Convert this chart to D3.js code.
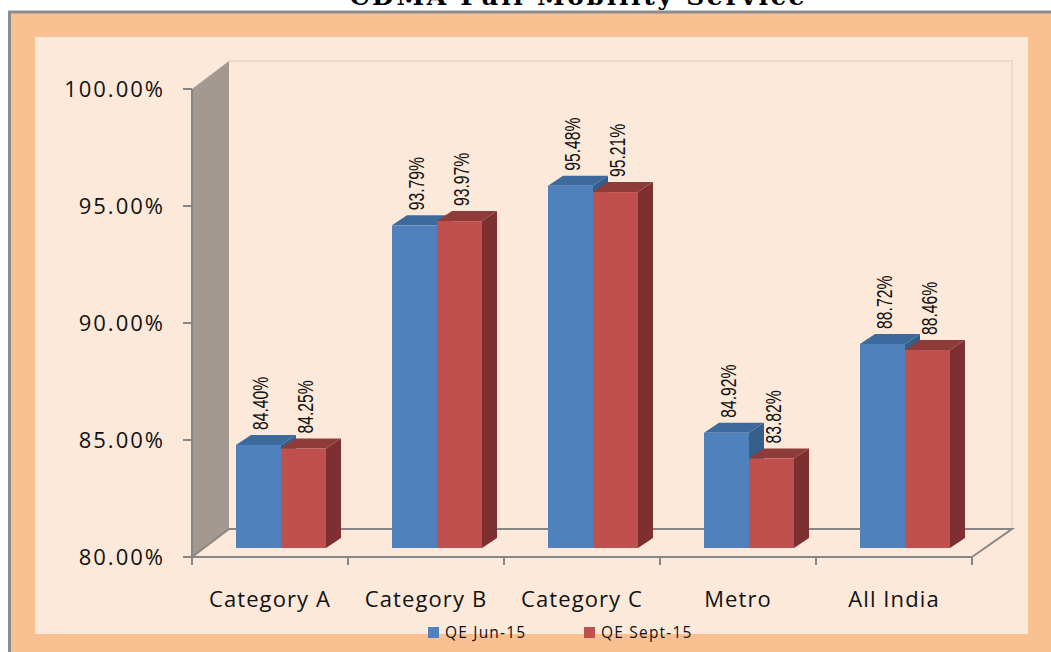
<!DOCTYPE html>
<html>
<head>
<meta charset="utf-8">
<script src="https://cdn.jsdelivr.net/npm/d3@7"></script>
<style>
  body { margin: 0; background: #fff; }
  svg { display: block; }
</style>
</head>
<body>
<div id="chart"></div>
<script>
// data
var categories = ["Category A", "Category B", "Category C", "Metro", "All India"];
var seriesNames = ["QE Jun-15", "QE Sept-15"];
var jun15 = [84.40, 93.79, 95.48, 84.92, 88.72];
var sep15 = [84.25, 93.97, 95.21, 83.82, 88.46];
var yTicks = [80, 85, 90, 95, 100];

var width = 1051, height = 652;

var colors = {
  "QE Jun-15": { front: "#4F81BD", top: "#3D6A9C", side: "#365E8B" },
  "QE Sept-15": { front: "#C0504D", top: "#8E3B39", side: "#7D302F" }
};

var svg = d3.select("#chart").append("svg")
  .attr("width", width)
  .attr("height", height);

// frame
svg.append("rect").attr("x", 9.5).attr("y", 12).attr("width", 1060).attr("height", 660)
  .attr("fill", "#F9C192").attr("stroke", "#8C8C8C").attr("stroke-width", 3);
svg.append("rect").attr("x", 35).attr("y", 37).attr("width", 993).attr("height", 597)
  .attr("fill", "#FDE9DA");

// title (cut off at top, as in the original)
svg.append("text")
  .attr("x", 577).attr("y", 5)
  .attr("text-anchor", "middle")
  .attr("font-family", "DejaVu Serif")
  .attr("font-weight", "bold")
  .attr("font-size", 25)
  .attr("textLength", 455)
  .attr("fill", "#000")
  .text("CDMA Full Mobility Service");

// scales
var x0 = d3.scaleBand().domain(categories).range([192, 972]);
var x1 = d3.scaleBand().domain(seriesNames).range([44, 134]);
var y = d3.scaleLinear().domain([80, 100]).range([557, 89]);

// 3d depth offsets
var depth = { dx: 37, dy: -28 };       // full floor depth
var barOff = { dx: -12, dy: -9 };      // bar front plane relative to floor front
var barDepth = { dx: 15, dy: -10 };    // bar thickness

var axisColor = "#878787";

// back plane outline (faint)
svg.append("path")
  .attr("d", "M" + (192 + depth.dx) + "," + (y(100) + depth.dy) + "H" + (972 + 40) + "V" + (557 + depth.dy))
  .attr("fill", "none").attr("stroke", "#EAD5C4").attr("stroke-width", 1.5);

// side wall
svg.append("path")
  .attr("d", "M192," + y(100) + "L" + (192 + depth.dx) + "," + (y(100) + depth.dy) +
    "L" + (192 + depth.dx) + "," + (y(80) + depth.dy) + "L192," + y(80) + "Z")
  .attr("fill", "#A39990");

// floor
svg.append("path")
  .attr("d", "M" + (192 + depth.dx) + "," + (y(80) + depth.dy) + "H" + (972 + 40) +
    "L972," + y(80) + "M192," + y(80) + "L" + (192 + depth.dx) + "," + (y(80) + depth.dy))
  .attr("fill", "none").attr("stroke", axisColor).attr("stroke-width", 2);

// y axis
var yAxis = svg.append("g");
yAxis.append("line").attr("x1", 192).attr("x2", 192).attr("y1", y(100)).attr("y2", y(80))
  .attr("stroke", axisColor).attr("stroke-width", 2);
yAxis.selectAll("line.tick").data(yTicks).enter().append("line")
  .attr("class", "tick")
  .attr("x1", 183).attr("x2", 192)
  .attr("y1", function(d) { return y(d); }).attr("y2", function(d) { return y(d); })
  .attr("stroke", axisColor).attr("stroke-width", 2);
yAxis.selectAll("text").data(yTicks).enter().append("text")
  .attr("x", 165)
  .attr("y", function(d) { return y(d) + 8; })
  .attr("text-anchor", "end")
  .attr("font-family", "Open Sans")
  .attr("font-size", 22)
  .attr("letter-spacing", 2)
  .attr("fill", "#111")
  .text(function(d) { return d.toFixed(2) + "%"; });

// x axis
var xAxis = svg.append("g");
xAxis.append("line").attr("x1", 191).attr("x2", 973).attr("y1", y(80)).attr("y2", y(80))
  .attr("stroke", axisColor).attr("stroke-width", 2);
var xTicks = categories.map(function(c) { return x0(c); }).concat([972]);
xAxis.selectAll("line.tick").data(xTicks).enter().append("line")
  .attr("class", "tick")
  .attr("x1", function(d) { return d; }).attr("x2", function(d) { return d; })
  .attr("y1", y(80)).attr("y2", y(80) + 8)
  .attr("stroke", axisColor).attr("stroke-width", 2);
xAxis.selectAll("text").data(categories).enter().append("text")
  .attr("x", function(d) { return x0(d) + x0.bandwidth() / 2; })
  .attr("y", 607)
  .attr("text-anchor", "middle")
  .attr("font-family", "Open Sans")
  .attr("font-size", 22)
  .attr("letter-spacing", 1.1)
  .attr("fill", "#111")
  .text(function(d) { return d; });

// bars
var rows = [];
categories.forEach(function(c, i) {
  rows.push({ cat: c, series: seriesNames[0], value: jun15[i] });
  rows.push({ cat: c, series: seriesNames[1], value: sep15[i] });
});

function pts(a) { return a.map(function(p) { return p.join(","); }).join(" "); }

var bars = svg.append("g").selectAll("g").data(rows).enter().append("g");

bars.each(function(d) {
  var g = d3.select(this);
  var c = colors[d.series];
  var xl = x0(d.cat) + x1(d.series);
  var xr = xl + x1.bandwidth();
  var yb = y(80) + barOff.dy;
  var yt = y(d.value) + barOff.dy;
  var ddx = barDepth.dx, ddy = barDepth.dy;
  // side
  g.append("polygon").attr("points", pts([[xr, yt], [xr + ddx, yt + ddy], [xr + ddx, yb + ddy], [xr, yb]]))
    .attr("fill", c.side);
  // top
  g.append("polygon").attr("points", pts([[xl, yt], [xl + ddx, yt + ddy], [xr + ddx, yt + ddy], [xr, yt]]))
    .attr("fill", c.top);
  // front
  g.append("rect").attr("x", xl).attr("y", yt).attr("width", xr - xl).attr("height", yb - yt)
    .attr("fill", c.front);
});

// value labels
bars.append("text")
  .attr("transform", function(d) {
    var cx = x0(d.cat) + x1(d.series) + x1.bandwidth() / 2 + 1;
    var yy = y(d.value) + barOff.dy + barDepth.dy - 5;
    return "translate(" + cx + "," + yy + ") rotate(-90) scale(0.7,1)";
  })
  .attr("dominant-baseline", "central")
  .attr("font-family", "Liberation Sans")
  .attr("font-size", 22.5)
  .attr("fill", "#111")
  .text(function(d) { return d.value.toFixed(2) + "%"; });

// legend
var legend = svg.append("g").selectAll("g").data(seriesNames).enter().append("g")
  .attr("transform", function(d, i) { return "translate(" + (428 + i * 156) + ",627)"; });
legend.append("rect").attr("width", 11).attr("height", 11)
  .attr("fill", function(d) { return colors[d].front; });
legend.append("text")
  .attr("x", 17).attr("y", 11)
  .attr("font-family", "Open Sans")
  .attr("font-size", 15.5)
  .attr("letter-spacing", 1.2)
  .attr("fill", "#111")
  .text(function(d) { return d; });
</script>
</body>
</html>
